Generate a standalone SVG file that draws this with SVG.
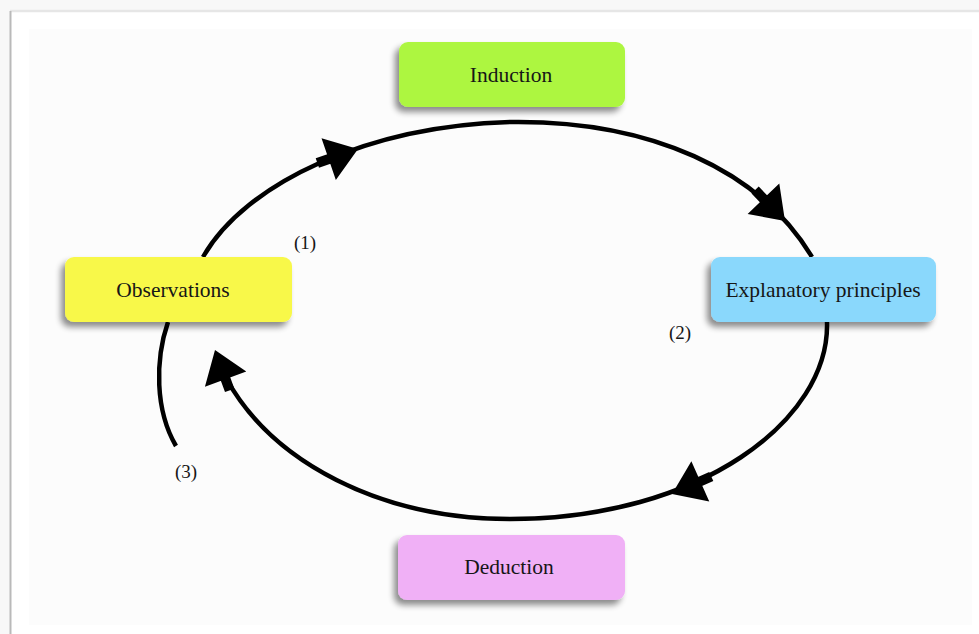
<svg xmlns="http://www.w3.org/2000/svg" xmlns:xlink="http://www.w3.org/1999/xlink" width="979" height="634" viewBox="0 0 979 634">
  <style>
    .box { stroke: none; filter: url(#shadow); }
    .label { font-family: "Liberation Serif", "Times New Roman", serif; font-size: 21.5px; fill: #161616; text-anchor: middle; }
    .num { font-family: "Liberation Serif", "Times New Roman", serif; font-size: 19px; fill: #161616; text-anchor: middle; }
    .arc { fill: none; stroke: #000; stroke-width: 4.5; stroke-linecap: butt; }
    .head { fill: #000; }
  </style>
  <defs>
    <filter id="shadow" x="-20%" y="-30%" width="140%" height="170%">
      <feGaussianBlur in="SourceAlpha" stdDeviation="3"/>
      <feOffset dx="-4" dy="5" result="b"/>
      <feComponentTransfer><feFuncA type="linear" slope="0.45"/></feComponentTransfer>
      <feMerge><feMergeNode/><feMergeNode in="SourceGraphic"/></feMerge>
    </filter>
    <filter id="edge" x="-50%" y="-5%" width="200%" height="110%">
      <feGaussianBlur stdDeviation="1.5"/>
    </filter>
    <!-- arrowhead pointing along +x, tip at origin, with a short thick stem -->
    <path id="ah" d="M0,0 L-31,-22 L-31,22 Z M-30,-5 L-43,-5 L-43,5 L-30,5 Z"/>
  </defs>

  <!-- page and frame -->
  <rect x="0" y="0" width="979" height="634" fill="#f8f8f8"/>
  <rect x="10" y="11" width="969" height="623" fill="#ffffff"/>
  <rect x="29" y="29" width="943" height="596" fill="#fcfcfc"/>
  <line x1="10" y1="11" x2="979" y2="11" stroke="#e6e6e6" stroke-width="2.5"/>
  <line x1="8" y1="12" x2="8" y2="634" stroke="#d8d8d8" stroke-width="4" filter="url(#edge)"/>
  <line x1="10.5" y1="11" x2="10.5" y2="634" stroke="#b9b9b9" stroke-width="2"/>

  <!-- connectors -->
  <g id="connectors">
    <path class="arc" d="M203,257 C245,183 368,126 510,122 C650,120 760,170 812,257"/>
    <path class="arc" d="M827,322 C830,420 700,519 510,519 C380,519 272,462 226,378"/>
    <path class="arc" d="M168,322 C155,360 155,410 176,446"/>
    <use xlink:href="#ah" class="head" transform="translate(358,149) rotate(-19)"/>
    <use xlink:href="#ah" class="head" transform="translate(785,221) rotate(46)"/>
    <use xlink:href="#ah" class="head" transform="translate(672,494) rotate(156)"/>
    <use xlink:href="#ah" class="head" transform="translate(215,350) rotate(-110)"/>
  </g>

  <!-- nodes -->
  <g id="induction">
    <rect class="box" x="399" y="42" width="226" height="65" rx="9" fill="#adf641"/>
    <text class="label" x="511" y="82">Induction</text>
  </g>
  <g id="observations">
    <rect class="box" x="65" y="257" width="227" height="65" rx="9" fill="#f8f84a"/>
    <text class="label" x="173" y="297">Observations</text>
  </g>
  <g id="explanatory-principles">
    <rect class="box" x="711" y="257" width="225" height="65" rx="9" fill="#8ad8fc"/>
    <text class="label" x="823" y="297">Explanatory principles</text>
  </g>
  <g id="deduction">
    <rect class="box" x="398" y="535" width="227" height="65" rx="9" fill="#f0b0f6"/>
    <text class="label" x="509" y="574">Deduction</text>
  </g>

  <!-- step numbers -->
  <text class="num" x="305" y="249">(1)</text>
  <text class="num" x="680" y="339">(2)</text>
  <text class="num" x="186" y="478">(3)</text>
</svg>
